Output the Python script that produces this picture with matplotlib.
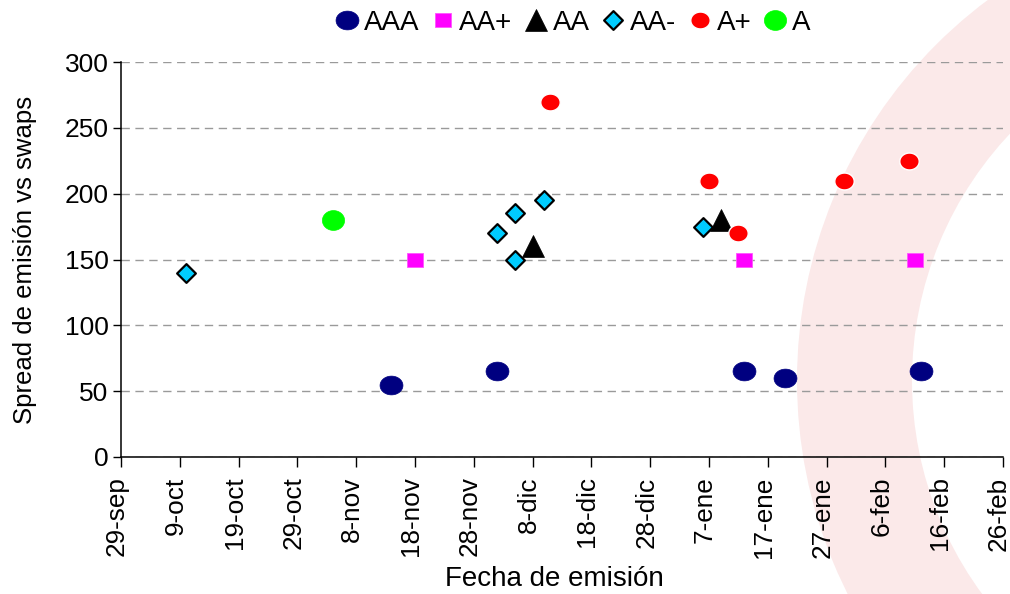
import datetime as dt
import numpy as np
import matplotlib
matplotlib.use("Agg")
import matplotlib.pyplot as plt
import matplotlib.transforms as mtransforms
from matplotlib.path import Path
from matplotlib.patches import Wedge
from matplotlib.lines import Line2D

plt.rcParams["font.family"] = ["Liberation Sans", "DejaVu Sans"]

# ---- data: issue date and spread over swaps (bp) by rating ----
aaa_dates = ["2008-11-14", "2008-12-02", "2009-01-13", "2009-01-20", "2009-02-12"]
aaa_spread = [55, 65, 65, 60, 65]

aa_plus_dates = ["2008-11-18", "2009-01-13", "2009-02-11"]
aa_plus_spread = [150, 150, 150]

aa_dates = ["2008-12-08", "2009-01-09"]
aa_spread = [160, 180]

aa_minus_dates = ["2008-10-10", "2008-12-02", "2008-12-05", "2008-12-05",
                  "2008-12-10", "2009-01-06"]
aa_minus_spread = [140, 170, 185, 150, 195, 175]

a_plus_dates = ["2008-12-11", "2009-01-07", "2009-01-12", "2009-01-30", "2009-02-10"]
a_plus_spread = [270, 210, 170, 210, 225]

a_dates = ["2008-11-04"]
a_spread = [180]

ratings = ["AAA", "AA+", "AA", "AA-", "A+", "A"]

x_start = "2008-09-29"
x_end = "2009-02-26"
x_tick_labels = ["29-sep", "9-oct", "19-oct", "29-oct", "8-nov", "18-nov",
                 "28-nov", "8-dic", "18-dic", "28-dic", "7-ene", "17-ene",
                 "27-ene", "6-feb", "16-feb", "26-feb"]
y_ticks = [0, 50, 100, 150, 200, 250, 300]


def to_dates(values):
    return [dt.datetime.strptime(v, "%Y-%m-%d") for v in values]


# slightly wide marker shapes
def ellipse_path(wx=1.2, hy=1.0):
    t = np.linspace(0, 2 * np.pi, 65)
    verts = np.column_stack([wx * np.cos(t), hy * np.sin(t)])
    return Path(verts, closed=True)


def rect_path(wx=1.18, hy=1.0):
    verts = [(-wx, -hy), (wx, -hy), (wx, hy), (-wx, hy), (-wx, -hy)]
    return Path(verts, closed=True)


diamond = Path([(0, 1), (1, 0), (0, -1), (-1, 0), (0, 1)], closed=True)

styles = {
    "AAA": dict(marker=ellipse_path(1.22, 1.0), markersize=16.5, color="#000080",
                mec="#000080", mew=0.5),
    "AA+": dict(marker=rect_path(1.18, 1.0), markersize=11.5, color="#ff00ff",
                mec="#ff55ff", mew=0.6),
    "AA": dict(marker="^", markersize=16.0, color="black", mec="black", mew=0.5),
    "AA-": dict(marker=diamond, markersize=13.5, color="#00ccff", mec="black", mew=1.6),
    "A+": dict(marker=ellipse_path(1.15, 1.0), markersize=14.0, color="#ff0000",
               mec="white", mew=1.0),
    "A": dict(marker=ellipse_path(1.12, 1.0), markersize=16.0, color="#00ff00",
              mec="#00ff00", mew=0.5),
}

series = [
    ("AAA", aaa_dates, aaa_spread),
    ("AA+", aa_plus_dates, aa_plus_spread),
    ("AA", aa_dates, aa_spread),
    ("AA-", aa_minus_dates, aa_minus_spread),
    ("A+", a_plus_dates, a_plus_spread),
    ("A", a_dates, a_spread),
]

W, H = 1010, 594
fig = plt.figure(figsize=(W / 100, H / 100), dpi=100)
fig.patch.set_facecolor("white")

# decorative pale ring in the background
ring = Wedge((12.72, 2.135), 4.75, 0, 360, width=1.15,
             transform=fig.dpi_scale_trans, facecolor="#fbe9e9",
             edgecolor="none", zorder=-5)
fig.add_artist(ring)

ax = fig.add_axes([121 / W, 1 - 457 / H, (1003 - 121) / W, (457 - 62) / H])
ax.set_facecolor("none")

for name, dates, values in series:
    st = styles[name]
    ax.plot(to_dates(dates), values, linestyle="none", marker=st["marker"],
            markersize=st["markersize"], markerfacecolor=st["color"],
            markeredgecolor=st["mec"], markeredgewidth=st["mew"],
            label=name, zorder=3, clip_on=False)

x0 = dt.datetime.strptime(x_start, "%Y-%m-%d")
x1 = dt.datetime.strptime(x_end, "%Y-%m-%d")
ax.set_xlim(x0, x1)
ax.set_ylim(0, 300)

tick_dates = [x0 + dt.timedelta(days=10 * i) for i in range(len(x_tick_labels))]
ax.set_xticks(tick_dates)
ax.set_xticklabels(x_tick_labels, rotation=90, fontsize=18.8)
ax.set_yticks(y_ticks)
ax.set_yticklabels([str(v) for v in y_ticks], fontsize=19)

ax.tick_params(axis="both", direction="out", width=1, color="black")
ax.tick_params(axis="x", length=7, pad=7)
ax.tick_params(axis="y", length=6, pad=3)

# rotated date labels sit a touch left of their ticks
shift = mtransforms.ScaledTranslation(-4 / 100, 0, fig.dpi_scale_trans)
for lbl in ax.get_xticklabels():
    lbl.set_transform(lbl.get_transform() + shift)

for side in ("top", "right"):
    ax.spines[side].set_visible(False)
for side in ("left", "bottom"):
    ax.spines[side].set_linewidth(1.1)
    ax.spines[side].set_color("black")

ax.yaxis.grid(True, linestyle=(0, (6, 4)), color="#9a9a9a", linewidth=1.0)
ax.set_axisbelow(True)

ax.set_xlabel("Fecha de emisión", fontsize=20)
ax.xaxis.set_label_coords((554 - 121) / (1003 - 121), -(566 - 457) / (457 - 62))
ax.set_ylabel("Spread de emisión vs swaps", fontsize=18.5, labelpad=20)

handles = []
for name in ratings:
    st = styles[name]
    handles.append(Line2D([], [], linestyle="none", marker=st["marker"],
                          markersize=st["markersize"], markerfacecolor=st["color"],
                          markeredgecolor=st["mec"], markeredgewidth=st["mew"]))
fig.legend(handles, ratings, loc="center", bbox_to_anchor=(573 / W, 1 - 23 / H),
           ncol=6, frameon=False, fontsize=20, handlelength=0.8,
           handletextpad=0.2, columnspacing=0.45, borderpad=0.1)

fig.savefig("out.png", dpi=100)
